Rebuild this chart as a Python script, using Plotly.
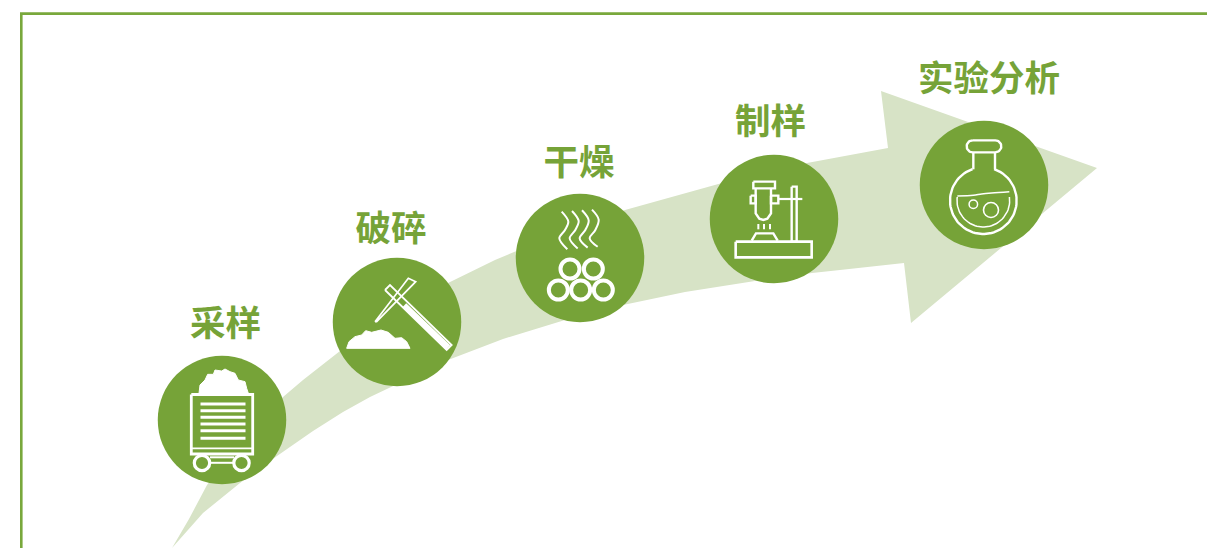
import numpy as np
import plotly.graph_objects as go

GREEN = "#76a338"
PALE = "#d7e3c6"
BORDER = "#79a83c"
WHITE = "#ffffff"

step_labels = ["采样", "破碎", "干燥", "制样", "实验分析"]
label_x = [225.5, 391, 579, 770.5, 989]
label_y = [327.5, 232, 166.5, 125, 82.5]
circle_x = [222, 397, 580, 774, 984]
circle_y = [420, 322, 258, 219, 185]

arrow_x = [172, 189, 207, 245, 283, 303, 340, 395, 448, 495, 560, 625, 722, 807, 888,
           881, 1097, 911, 904, 870, 840, 812, 755, 685, 623, 565, 503, 448, 390, 370, 343, 313, 277, 240, 203]
arrow_y = [548, 519, 485, 437, 397, 380, 351, 313, 283, 260, 233, 210, 183, 163, 148,
           91, 168, 323, 263, 267, 270, 273, 281, 292, 305, 320, 339, 360, 387, 397, 412, 431, 456, 483, 513]

fig = go.Figure()


def z2(p):
    return [(510 + a / 3, 150 + b / 3) for a, b in p]


def z3(p):
    return [(870 + a / 3, 80 + b / 3) for a, b in p]


def zc(p):
    return [(185 + a / 3, 365 + b / 3) for a, b in p]


def zp(p):
    return [(345 + a / 3, 270 + b / 3) for a, b in p]


def stroke(p, width=2.0, fill=False, spline=False, color=WHITE):
    xs = [a for a, _ in p]
    ys = [b for _, b in p]
    fig.add_trace(go.Scatter(
        x=xs, y=ys, mode="lines", hoverinfo="skip", showlegend=False,
        line=dict(color=color, width=width, shape="spline" if spline else "linear", smoothing=1.0),
        fill="toself" if fill else "none",
        fillcolor=color if fill else None,
    ))


def rect(a, b, c, d):
    return [(a, b), (c, b), (c, d), (a, d), (a, b)]


def rings(p, size, width):
    fig.add_trace(go.Scatter(
        x=[a for a, _ in p], y=[b for _, b in p], mode="markers", hoverinfo="skip", showlegend=False,
        marker=dict(size=size, color="rgba(0,0,0,0)", line=dict(color=WHITE, width=width)),
    ))


# arrow
fig.add_trace(go.Scatter(x=arrow_x, y=arrow_y, mode="lines", fill="toself", fillcolor=PALE,
                         line=dict(color=PALE, width=0), hoverinfo="skip", showlegend=False))
# frame
stroke([(21.3, 548), (21.3, 13.6), (1207, 13.6)], width=2.6, color=BORDER)
# discs
fig.add_trace(go.Scatter(x=circle_x, y=circle_y, mode="markers", hoverinfo="skip", showlegend=False,
                         marker=dict(size=128.5, color=GREEN, line=dict(width=0))))

# cart
stroke(rect(191.3, 394.5, 252.7, 454), 2.8)
stroke([(191.3, 448.3), (252.7, 448.3)], 1.8)
for v in [404, 410.7, 417.3, 424, 430.7, 438.3]:
    stroke([(200.5, v), (245.5, v)], 3)
stroke([(210, 457.3), (234, 457.3)], 2)
stroke([(210, 462.8), (234, 462.8)], 2)
rings([(202, 463), (241.5, 463)], 15.4, 3.2)
stroke(zc([(42, 85), (45, 60), (60, 45), (68, 28), (85, 28), (90, 15), (110, 18), (120, 12), (135, 20),
           (150, 25), (160, 45), (180, 50), (185, 70), (190, 85), (42, 85)]), 1, fill=True)

# pick
stroke(zp([(90, 155), (190, 25), (212, 35), (95, 155), (90, 155)]), 1.7)
stroke(zp([(120, 60), (135, 45), (320, 225), (305, 240), (120, 60)]), 1.8)
stroke(zp([(178, 106), (310, 232)]), 5.5)
stroke(zp([(5, 235), (12, 215), (30, 200), (50, 195), (62, 182), (80, 187), (108, 180), (130, 187),
           (150, 205), (170, 203), (185, 215), (195, 235), (5, 235)]), 1, fill=True)

# steam and pipes
for dx in [0, 31, 61, 91]:
    stroke(z2([(155 + dx, 185 - dx / 15), (175 + dx, 215 - dx / 15), (165 + dx, 240),
               (148 + dx, 265), (172 + dx, 298 - dx / 12)]), 2, spline=True)
rings(z2([(180, 357), (250, 357), (145, 420), (212, 420), (280, 420)]), 19, 4)

# apparatus
stroke(z2(rect(730, 95, 795, 115)), 2.4)
stroke(z2([(737, 115), (737, 190), (748, 206), (760, 210), (772, 206), (783, 190), (783, 115)]), 2.4)
stroke(z2(rect(722, 137, 737, 160)), 2.4)
stroke(z2(rect(783, 137, 805, 160)), 2.4)
stroke(z2([(805, 147), (877, 147)]), 2.2)
stroke(z2(rect(845, 110, 860, 275)), 2.4)
stroke(z2(rect(677, 275, 905, 322)), 2.6)
stroke(z2([(725, 272), (738, 250), (790, 250), (803, 272)]), 2.4)
for v in [745, 762, 780]:
    stroke(z2([(v, 222), (v, 238)]), 2)

# flask
t = np.radians(np.linspace(-71, 251, 80))
stroke(z3(list(zip(340 + 100 * np.cos(t), 362 + 100 * np.sin(t)))), 2.4)
stroke(z3([(310, 218), (310, 268)]), 2.4)
stroke(z3([(375, 218), (375, 268)]), 2.4)
c = np.radians(np.linspace(-90, 90, 24))
cap = [(308 - 18 * np.cos(a), 199 + 18 * np.sin(a)) for a in c] + \
      [(376 + 18 * np.cos(a), 199 - 18 * np.sin(a)) for a in c]
stroke(z3(cap + cap[:1]), 2.4)
t2 = np.radians(np.linspace(-8, 188, 50))
liq = list(zip(340 + 79 * np.cos(t2), 362 + 79 * np.sin(t2)))
stroke(z3(liq), 1.5)
stroke(z3([(262, 348), (310, 346), (335, 342), (365, 339), (418, 335)]), 1.5, spline=True)
rings(z3([(310, 373)]), 8.5, 1.5)
rings(z3([(363, 390)]), 15, 1.6)

fig.add_trace(go.Scatter(
    x=label_x, y=label_y, text=step_labels, mode="text", hoverinfo="skip", showlegend=False,
    textposition="middle center",
    textfont=dict(family="Noto Sans CJK SC", size=35.5, color=GREEN, weight=700),
))

fig.update_xaxes(visible=False, range=[0, 1207], fixedrange=True)
fig.update_yaxes(visible=False, range=[548, 0], fixedrange=True)
fig.update_layout(width=1207, height=548, margin=dict(l=0, r=0, t=0, b=0),
                  paper_bgcolor="white", plot_bgcolor="white", showlegend=False)
fig.write_html("out.html", config={"displayModeBar": False},
               post_script="document.body.style.margin='0';document.body.style.overflow='hidden';")
